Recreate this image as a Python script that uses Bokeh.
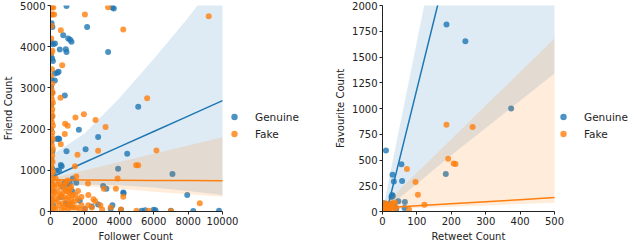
from bokeh.plotting import figure
from bokeh.models import Range1d, FixedTicker, Legend, LegendItem, Title
from bokeh.layouts import row
from bokeh.embed import file_html
from bokeh.resources import INLINE

BLUE = "#1f77b4"
ORANGE = "#ff7f0e"
FONT = "DejaVu Sans"
INK = "#222222"

# ---------------- Left panel: Follower Count vs Friend Count ----------------
gen_follower = [60, 110, 30, 150, 260, 20, 90, 140, 60, 30, 100, 40, 80, 20, 60, 110, 40, 90, 160, 30, 120, 50, 150, 20,
                930, 3600, 3680, 2130, 740, 1030, 1140, 1220, 890, 930, 540, 3350, 250, 400, 470, 250, 830, 5100,
                1650, 2770, 390, 450, 510, 2040, 930, 4460, 3930, 7090, 600, 650, 350, 500, 830, 1120, 700, 3060,
                3250, 4230, 4250, 1700, 2770, 7950, 1990, 2400, 6000, 6100, 7000, 8300, 9800, 5300, 5500, 4100,
                3500, 1300, 1500, 950, 1250, 600, 900, 1100, 3600]
gen_friend = [4570, 4480, 4100, 4060, 4080, 3780, 3720, 3650, 3200, 3020, 2880, 2600, 2300, 2000, 1700, 1460, 1250, 1050, 880, 700, 500, 300, 150, 60,
              4990, 4950, 4930, 4480, 4280, 4200, 4170, 4120, 3940, 3870, 3930, 3870, 3350, 3370, 3390, 3180, 2815, 2540,
              1985, 1810, 1760, 1770, 1760, 1510, 1460, 1400, 1040, 910, 1130, 1100, 990, 1000, 700, 680, 600, 620,
              550, 460, 440, 260, 170, 400, 60, 120, 40, 30, 20, 10, 20, 20, 30, 40,
              60, 800, 700, 650, 500, 350, 200, 150, 150]

fake_follower = [40, 120, 60, 100, 20, 140, 80, 40, 120, 60, 100, 20, 140, 80, 40, 120, 60, 100, 20, 140, 80, 40, 120, 60, 100, 20, 140, 80, 40, 120, 60, 100, 20, 140, 80, 40, 120, 60,
                 30, 80, 50, 110, 60, 30, 120, 210, 80, 160, 40, 100,
                 3350, 2000, 4230, 600, 9200, 580, 680, 5620, 1940, 1450, 850, 1000, 2620, 3200, 830, 600, 2770, 6160,
                 1570, 4980, 5100, 1420, 1500, 3900, 2180, 3100, 3800, 4230, 8680, 3500, 4100, 5000, 5700, 7000,
                 2500, 2900, 2200, 1800, 1600, 1200, 1000, 900,
                 200, 300, 400, 500, 300, 200, 600, 700, 800, 900, 1000, 1100, 1200, 1300, 1400, 1500, 1600, 1700,
                 1800, 2000, 500, 400, 600, 700, 800, 900, 1000, 1100, 1200, 300, 500, 250, 350, 650, 750, 850, 950,
                 1050, 1150, 1250, 1350, 1450, 2200, 2400, 2600, 3000]
fake_friend = [0, 80, 160, 240, 320, 400, 480, 560, 640, 720, 800, 880, 960, 1040, 1120, 1200, 1280, 1360, 1440, 1520, 1600, 1680, 1760, 1840, 1920, 2000, 2080, 2160, 2240, 2320, 2400, 2480, 2560, 2640, 2720, 2800, 2880, 2960,
               3300, 3450, 3850, 3900, 4500, 4780, 4780, 4780, 4950, 4950, 4200, 3100,
               4960, 4780, 4420, 4400, 4740, 2760, 3550, 2750, 2360, 2280, 2130, 2080, 2220, 2050, 1880, 1630, 1475, 1480,
               1375, 1120, 1120, 1100, 850, 800, 680, 550, 550, 360, 200, 100, 50, 20, 20, 10,
               300, 150, 150, 350, 500, 600, 750, 500,
               100, 300, 500, 700, 800, 600, 400, 200, 100, 300, 500, 200, 100, 400, 250, 100, 300, 50,
               150, 50, 150, 250, 600, 450, 650, 700, 50, 450, 300, 50, 350, 450, 650, 50, 350, 550, 150,
               350, 550, 200, 100, 400, 400, 100, 250, 50]

fit1_x = [0, 2000, 4000, 6000, 8000, 10000]
gen1_fit = [820, 1194, 1568, 1942, 2316, 2690]
gen1_lo = [600, 650, 640, 580, 500, 400]
gen1_hi = [1350, 1900, 2750, 3700, 4700, 5800]
fake1_fit = [770, 765, 760, 755, 750, 745]
fake1_lo = [700, 620, 550, 480, 420, 360]
fake1_hi = [800, 1000, 1200, 1400, 1600, 1800]
ticks1_x = [0, 2000, 4000, 6000, 8000, 10000]
ticks1_y = [0, 1000, 2000, 3000, 4000, 5000]

# ---------------- Right panel: Retweet Count vs Favourite Count ----------------
gen_retweet = [186, 241, 374, 10, 55, 29, 33, 57, 184, 28, 26, 30, 65, 46, 5, 10, 15, 0, 20, 64, 3, 8, 12, 18, 25, 35, 40, 2, 5]
gen_fav = [1815, 1654, 1000, 592, 459, 358, 292, 297, 365, 160, 140, 150, 92, 100, 50, 70, 60, 40, 20, 35, 80, 30, 10, 45, 70, 55, 25, 5, 15]
fake_retweet = [186, 262, 191, 207, 212, 71, 96, 103, 122, 36, 77, 5, 10, 15, 20, 25, 3, 8, 12, 18, 30, 22, 0, 40, 28]
fake_fav = [843, 821, 513, 465, 460, 412, 286, 163, 66, 88, 19, 10, 40, 70, 30, 55, 60, 80, 20, 5, 15, 45, 30, 35, 80]

fit2_x = [0, 100, 200, 300, 400, 500]
gen2_fit = [-162, 1188, 2538, 3888, 5238, 6588]
gen2_lo = [0, 270, 545, 810, 1075, 1340]
gen2_hi = [0, 1650, 3300, 4950, 6600, 8250]
fake2_fit = [35, 55, 75, 95, 115, 135]
fake2_lo = [20, 33, 46, 59, 72, 85]
fake2_hi = [50, 376, 702, 1028, 1354, 1680]
ticks2_x = [0, 100, 200, 300, 400, 500]
ticks2_y = [0, 250, 500, 750, 1000, 1250, 1500, 1750, 2000]

FW, FH = 172, 206   # width of the data part of each frame, frame height


def panel(left, extra, leg_dx, label_dx, xr, yr, xt, yt, xlabel, ylabel,
          gx, gy, fx, fy, fit_x, gfit, glo, ghi, ffit, flo, fhi):
    # the frame is widened by `extra` pixels to hold the legend; the x axis is bounded to the data range
    x_end = xr[1] * (FW + extra) / FW
    p = figure(frame_width=FW + extra, frame_height=FH, output_backend="svg", toolbar_location=None,
               x_range=Range1d(xr[0], x_end), y_range=Range1d(*yr),
               min_border_left=left, min_border_right=0, min_border_top=5, min_border_bottom=0)
    p.outline_line_color = None
    p.grid.visible = False
    p.xaxis[0].bounds = xr
    for ax, ticks in ((p.xaxis[0], xt), (p.yaxis[0], yt)):
        ax.ticker = FixedTicker(ticks=ticks)
        ax.major_label_text_font = FONT
        ax.major_label_text_font_size = "10px"
        ax.major_label_text_color = INK
        ax.axis_line_color = INK
        ax.major_tick_line_color = INK
        ax.major_tick_out = 3
        ax.major_tick_in = 0
        ax.minor_tick_line_color = None
        ax.major_label_standoff = 2
    ya = p.yaxis[0]
    ya.axis_label = ylabel
    ya.axis_label_text_font = FONT
    ya.axis_label_text_font_size = "10px"
    ya.axis_label_text_font_style = "normal"
    ya.axis_label_text_color = INK
    ya.axis_label_standoff = 3
    # x-axis label placed under the data part of the frame
    p.add_layout(Title(text=xlabel, align="left", offset=label_dx, standoff=2,
                       text_font=FONT, text_font_size="10px", text_font_style="normal",
                       text_color=INK), "below")
    rg = p.scatter(gx, gy, size=6, fill_color=BLUE, line_color=None, fill_alpha=0.8)
    p.varea(x=fit_x, y1=glo, y2=ghi, fill_color=BLUE, fill_alpha=0.15)
    p.line(fit_x, gfit, line_color=BLUE, line_width=1.5)
    rf = p.scatter(fx, fy, size=6, fill_color=ORANGE, line_color=None, fill_alpha=0.8)
    p.varea(x=fit_x, y1=flo, y2=fhi, fill_color=ORANGE, fill_alpha=0.15)
    p.line(fit_x, ffit, line_color=ORANGE, line_width=1.5)
    leg = Legend(items=[LegendItem(label="Genuine", renderers=[rg]),
                        LegendItem(label="Fake", renderers=[rf])],
                 location=(FW + leg_dx, 69), border_line_color=None, background_fill_alpha=0,
                 label_text_font=FONT, label_text_font_size="10.5px", label_text_color=INK,
                 glyph_width=16, glyph_height=17, label_height=17, label_standoff=13,
                 spacing=0, padding=2, margin=0)
    p.add_layout(leg, "center")
    return p


p1 = panel(46, 108, 4, 48, (0, 10000), (0, 5000), ticks1_x, ticks1_y, "Follower Count", "Friend Count",
           gen_follower, gen_friend, fake_follower, fake_friend,
           fit1_x, gen1_fit, gen1_lo, gen1_hi, fake1_fit, fake1_lo, fake1_hi)
p2 = panel(52, 77, 1, 49, (0, 500), (0, 2000), ticks2_x, ticks2_y, "Retweet Count", "Favourite Count",
           gen_retweet, gen_fav, fake_retweet, fake_fav,
           fit2_x, gen2_fit, gen2_lo, gen2_hi, fake2_fit, fake2_lo, fake2_hi)

layout = row(p1, p2)
open("out.html", "w").write(file_html(layout, INLINE))
